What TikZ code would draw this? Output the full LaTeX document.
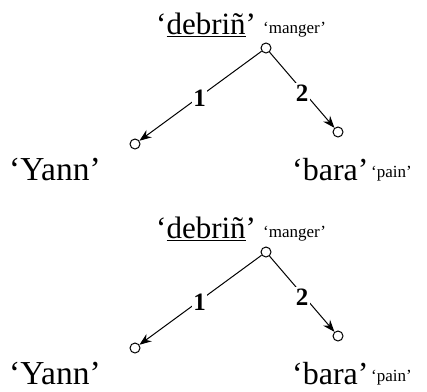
\documentclass[tikz,border=0pt]{standalone}
\usepackage{fontspec}
\setmainfont{Liberation Serif}
\usetikzlibrary{arrows.meta}
\tikzset{
  vtx/.style={circle,draw,line width=1pt,inner sep=0pt,minimum size=10pt},
  big/.style={inner sep=0pt,font=\fontsize{32}{38}\selectfont},
  small/.style={inner sep=0pt,font=\fontsize{17}{20}\selectfont},
  elab/.style={fill=white,inner sep=1.5pt,font=\fontsize{25}{28}\selectfont\bfseries},
  arc/.style={line width=1pt,-{Stealth[length=12pt,width=9pt]}}
}
\begin{document}
\begin{tikzpicture}[x=1pt,y=-1pt]
\useasboundingbox (0,0) rectangle (427,391);
\foreach \s/\p in {0/a,204/b}{
  \begin{scope}[shift={(0,\s)}]
    \node[big,font=\fontsize{31}{37}\selectfont,anchor=base west] (\p head) at (156,34) {‘\underline{debriñ}’};
    \node[small,anchor=base west] (\p gl) at (263,33) {‘manger’};
    \node[vtx] (\p r) at (266,48) {};
    \node[vtx] (\p l) at (135,144) {};
    \node[vtx] (\p rr) at (338,132) {};
    \node[big,font=\fontsize{33.5}{40}\selectfont,anchor=base west] (\p yann) at (9,180) {‘Yann’};
    \node[big,anchor=base west] (\p bara) at (292,180) {‘bara’};
    \node[small,anchor=base west] (\p pain) at (371,177) {‘pain’};
    \draw[arc] (\p r) -- node[elab,pos=0.5,xshift=-1pt,yshift=-2pt] (\p one) {1} (\p l);
    \draw[arc] (\p r) -- node[elab,pos=0.5,yshift=-3pt] (\p two) {2} (\p rr);
  \end{scope}
}
\end{tikzpicture}
\end{document}
